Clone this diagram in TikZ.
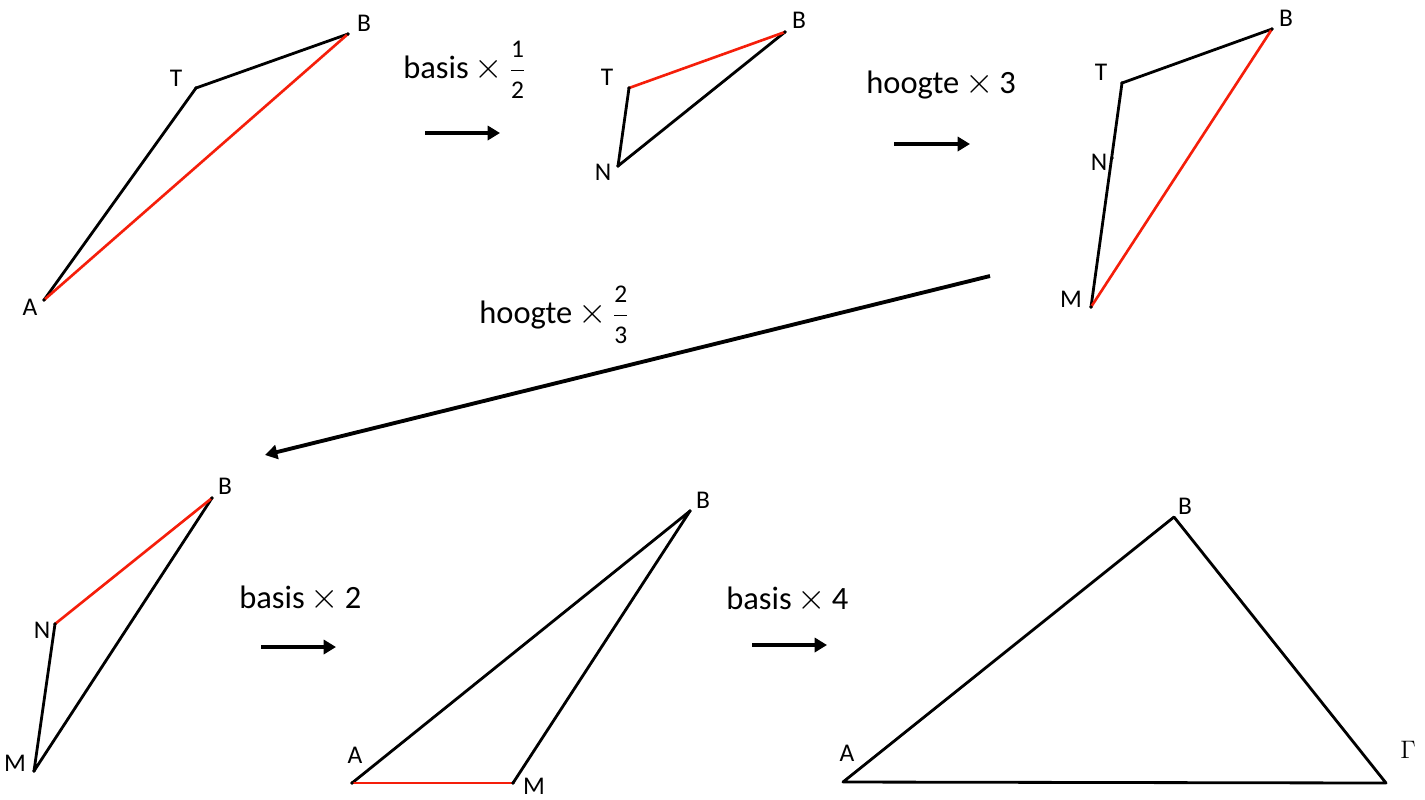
\documentclass[tikz,border=0pt]{standalone}
\usepackage{amsmath}
\usepackage{fontspec}
\setmainfont{Carlito}
\usetikzlibrary{arrows.meta}
\definecolor{segred}{RGB}{245,30,10}
\tikzset{
  side/.style={line width=1.6pt, line cap=round, line join=round},
  redside/.style={side, color=segred, line width=1.5pt},
  step arrow/.style={line width=2.2pt, -{Triangle[length=7pt,width=8pt]}},
  vlabel/.style={font=\fontsize{14.5}{16}\selectfont, inner sep=0pt},
  steptext/.style={font=\fontsize{18.5}{22}\selectfont, inner sep=0pt, anchor=base west}
}
\newcommand\vdot[1]{\fill (#1) circle (1.1pt);}
\newcommand\crs{\hspace{0.18em}{\fontsize{22}{22}\selectfont$\times$}\hspace{0.18em}}
\newcommand\fracdig[2]{$\dfrac{\mbox{\fontsize{14.5}{15}\selectfont #1}}{\mbox{\fontsize{14.5}{15}\selectfont #2}}$}
\begin{document}
\begin{tikzpicture}[x=0.02cm,y=-0.02cm]
  \useasboundingbox (0,0) rectangle (1425,799);
  % first triangle A T B
  \coordinate (a1) at (44,300);
  \coordinate (t1) at (196,88);
  \coordinate (b1) at (348,34);
  \draw[side] (a1) -- (t1) -- (b1);
  \draw[redside] (a1) -- (b1);
  \foreach \p in {a1,t1,b1} {\vdot{\p}}
  \node[vlabel] (la1) at (30,307) {A};
  \node[vlabel] (lt1) at (176,78) {T};
  \node[vlabel] (lb1) at (364,23) {B};
  \node[steptext] (s1) at (403,78) {basis\crs\fracdig{1}{2}};
  \coordinate (s1a) at (425,133);
  \coordinate (s1b) at (500,133);
  \draw[step arrow] (s1a) -- (s1b);
  % second triangle N T B
  \coordinate (n2) at (618,166);
  \coordinate (t2) at (629,88);
  \coordinate (b2) at (785,32);
  \draw[side] (t2) -- (n2) -- (b2);
  \draw[redside] (t2) -- (b2);
  \foreach \p in {n2,t2,b2} {\vdot{\p}}
  \node[vlabel] (lt2) at (607,77) {T};
  \node[vlabel] (ln2) at (603,172) {N};
  \node[vlabel] (lb2) at (799,20) {B};
  \node[steptext] (s2) at (866,93) {hoogte\crs 3};
  \coordinate (s2a) at (894,144);
  \coordinate (s2b) at (970,144);
  \draw[step arrow] (s2a) -- (s2b);
  % third triangle M T B
  \coordinate (m3) at (1091,307);
  \coordinate (n3) at (1112,158);
  \coordinate (t3) at (1122,83);
  \coordinate (b3) at (1272,29);
  \draw[side] (m3) -- (t3) -- (b3);
  \draw[redside] (m3) -- (b3);
  \foreach \p in {m3,n3,t3,b3} {\vdot{\p}}
  \node[vlabel] (lt3) at (1101,72) {T};
  \node[vlabel] (ln3) at (1099,162) {N};
  \node[vlabel] (lb3) at (1286,18) {B};
  \node[vlabel] (lm3) at (1071,299) {M};
  \node[steptext] (s3) at (479,323) {hoogte\crs\fracdig{2}{3}};
  \coordinate (s3a) at (990,276);
  \coordinate (s3b) at (265,455);
  \draw[step arrow] (s3a) -- (s3b);
  % fourth triangle M N B
  \coordinate (m4) at (34,771);
  \coordinate (n4) at (55,624);
  \coordinate (b4) at (212,498);
  \draw[side] (n4) -- (m4) -- (b4);
  \draw[redside] (n4) -- (b4);
  \foreach \p in {m4,n4,b4} {\vdot{\p}}
  \node[vlabel] (lb4) at (225,486) {B};
  \node[vlabel] (ln4) at (42,630) {N};
  \node[vlabel] (lm4) at (15,763) {M};
  \node[steptext] (s4) at (239,608) {basis\crs 2};
  \coordinate (s4a) at (261,647);
  \coordinate (s4b) at (336,647);
  \draw[step arrow] (s4a) -- (s4b);
  % fifth triangle A M B
  \coordinate (a5) at (352,783);
  \coordinate (m5) at (513,783);
  \coordinate (b5) at (690,511);
  \draw[side] (a5) -- (b5) -- (m5);
  \draw[redside] (a5) -- (m5);
  \foreach \p in {a5,m5,b5} {\vdot{\p}}
  \node[vlabel] (lb5) at (703,500) {B};
  \node[vlabel] (la5) at (355,755) {A};
  \node[vlabel] (lm5) at (534,786) {M};
  \node[steptext] (s5) at (726,609) {basis\crs 4};
  \coordinate (s5a) at (752,645);
  \coordinate (s5b) at (827,645);
  \draw[step arrow] (s5a) -- (s5b);
  % last triangle A B Gamma
  \coordinate (a6) at (843,782);
  \coordinate (b6) at (1174,517);
  \coordinate (g6) at (1386,783);
  \draw[side] (a6) -- (b6) -- (g6) -- cycle;
  \node[vlabel] (lb6) at (1185,506) {B};
  \node[vlabel] (la6) at (847,753) {A};
  \node[vlabel] (lg6) at (1408,750) {$\Gamma$};
\end{tikzpicture}
\end{document}
